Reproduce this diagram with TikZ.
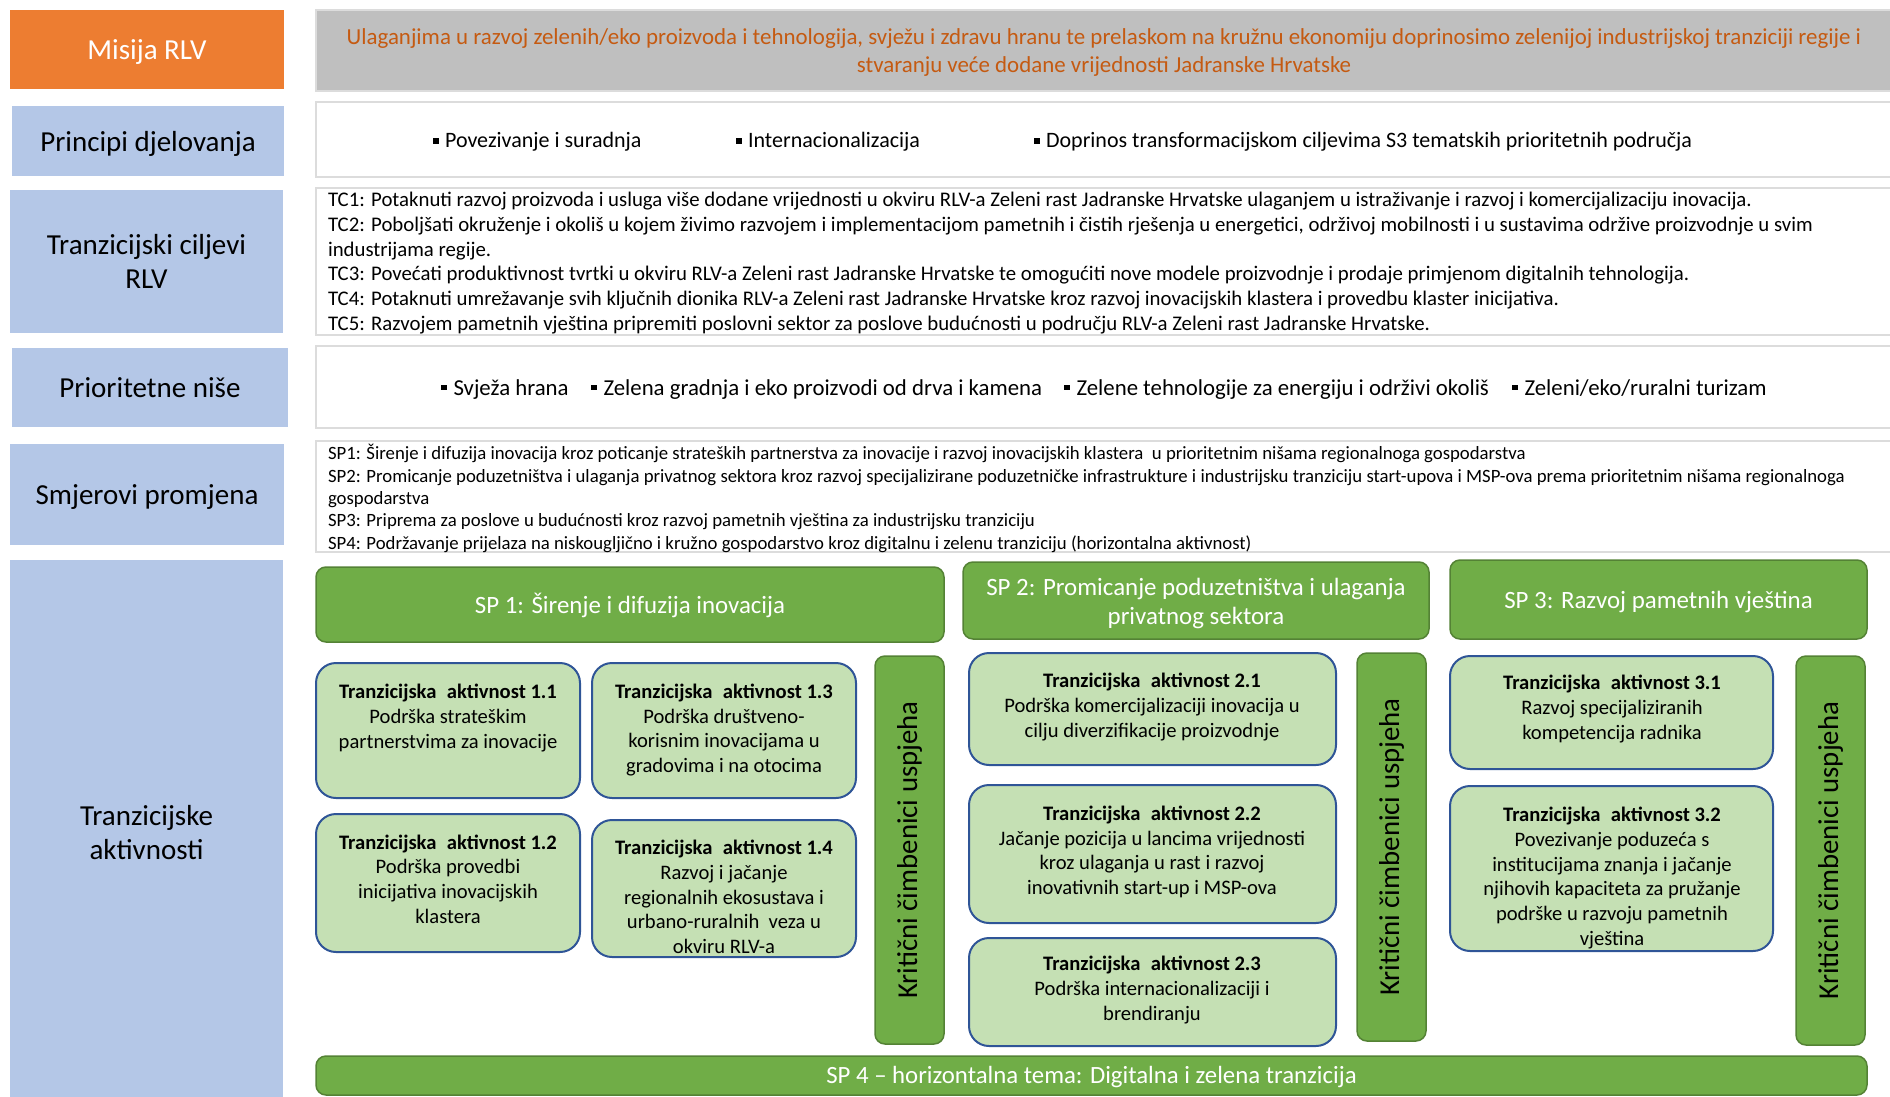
\documentclass[tikz,border=0pt]{standalone}
\usepackage{fontspec}
\setmainfont{Carlito}
\definecolor{orng}{HTML}{ED7D31}
\definecolor{lblue}{HTML}{B4C7E7}
\definecolor{mgray}{HTML}{BFBFBF}
\definecolor{bord}{HTML}{DCDCDC}
\definecolor{mtext}{HTML}{C55A11}
\definecolor{hgreen}{HTML}{70AD47}
\definecolor{hgreenb}{HTML}{548235}
\definecolor{agreen}{HTML}{C5E0B4}
\definecolor{ablue}{HTML}{2F5597}
\newcommand{\fs}[2]{\fontsize{#1}{#2}\selectfont}
\newcommand{\sqb}{\raisebox{0.2em}{\rule{0.26em}{0.26em}}\hspace{0.28em}}
\newcommand{\tak}[1]{\textbf{Tranzicijska\hspace{0.5em}aktivnost #1}}
\tikzset{
  box/.style={anchor=north west, inner sep=0pt, outer sep=0pt},
  lbl/.style={box, fill=lblue, align=center, font=\fs{29}{34}},
  ltext/.style={align=center, font=\fs{29}{34}, inner sep=0pt},
  panel/.style={box, fill=white, draw=bord, line width=2.5pt},
  hdr/.style={box, fill=hgreen, draw=hgreenb, line width=1.5pt, rounded corners=10pt},
  htext/.style={text=white, align=center, font=\fs{24.9}{29}, inner sep=0pt, yshift=-2pt},
  act/.style={box, fill=agreen, draw=ablue, line width=2pt, rounded corners=20pt},
  atext/.style={align=center, font=\fs{20.6}{24.7}, inner sep=0pt, yshift=-3pt},
  kbar/.style={box, fill=hgreen, draw=hgreenb, line width=1.5pt, rounded corners=10pt},
  ktext/.style={rotate=90, font=\fs{28.8}{32}, inner sep=0pt},
  ptext/.style={anchor=base west, inner sep=0pt, font=\fs{22}{26}},
  ntext/.style={anchor=base west, inner sep=0pt, font=\fs{22.8}{27}}
}
\begin{document}
\begin{tikzpicture}[x=1pt,y=-1pt]
\useasboundingbox (0,0) rectangle (1890,1097);
% left labels
\node[lbl, fill=orng, minimum width=274pt, minimum height=79pt] (mis) at (10,10) {};
\node[ltext, text=white] (mist0) at (147,52.5) {Misija RLV};
\node[lbl, minimum width=272pt, minimum height=70pt] (prin) at (12,106) {};
\node[ltext] (print0) at (148,143.5) {Principi djelovanja};
\node[lbl, minimum width=273pt, minimum height=143pt] (tcl) at (10,190) {Tranzicijski ciljevi\\RLV};
\node[lbl, minimum width=276pt, minimum height=79pt] (prio) at (12,348) {Prioritetne niše};
\node[lbl, minimum width=274pt, minimum height=101pt] (smj) at (10,444) {};
\node[ltext] (smjt) at (147,497) {Smjerovi promjena};
\node[lbl, minimum width=273pt, minimum height=540pt] (tal) at (10,560) {};
\node[ltext] (talt) at (146.5,833) {Tranzicijske\\aktivnosti};
% panels
\node[panel, fill=mgray, draw=bord, minimum width=1590pt, minimum height=81pt] (misp) at (316,10) {};
\node[align=center, text=mtext, font=\fs{22.9}{28}, inner sep=0pt] (mist) at (1104,52.5) {Ulaganjima u razvoj zelenih/eko proizvoda i tehnologija, svježu i zdravu hranu te prelaskom na kružnu ekonomiju doprinosimo zelenijoj industrijskoj tranziciji regije i\\stvaranju veće dodane vrijednosti Jadranske Hrvatske};
\node[panel, minimum width=1590pt, minimum height=75pt] (prinp) at (316,102) {};
\node[ptext] (p1) at (433,148) {\sqb Povezivanje i suradnja};
\node[ptext] (p2) at (736,148) {\sqb Internacionalizacija};
\node[ptext] (p3) at (1034,148) {\sqb Doprinos transformacijskom ciljevima S3 tematskih prioritetnih područja};
\node[panel, minimum width=1590pt, minimum height=147pt] (tcp) at (316,188) {};
\node[box, align=left, font=\fs{20.8}{24.8}] (tct) at (328,192) {TC1: Potaknuti razvoj proizvoda i usluga više dodane vrijednosti u okviru RLV-a Zeleni rast Jadranske Hrvatske ulaganjem u istraživanje i razvoj i komercijalizaciju inovacija.\\
TC2: Poboljšati okruženje i okoliš u kojem živimo razvojem i implementacijom pametnih i čistih rješenja u energetici, održivoj mobilnosti i u sustavima održive proizvodnje u svim\\
industrijama regije.\\
TC3: Povećati produktivnost tvrtki u okviru RLV-a Zeleni rast Jadranske Hrvatske te omogućiti nove modele proizvodnje i prodaje primjenom digitalnih tehnologija.\\
TC4: Potaknuti umrežavanje svih ključnih dionika RLV-a Zeleni rast Jadranske Hrvatske kroz razvoj inovacijskih klastera i provedbu klaster inicijativa.\\
TC5: Razvojem pametnih vještina pripremiti poslovni sektor za poslove budućnosti u području RLV-a Zeleni rast Jadranske Hrvatske.};
\node[panel, minimum width=1590pt, minimum height=82pt] (priop) at (316,346) {};
\node[ntext] (n1) at (441,395) {\sqb Svježa hrana};
\node[ntext] (n2) at (591,395) {\sqb Zelena gradnja i eko proizvodi od drva i kamena};
\node[ntext] (n3) at (1064,395) {\sqb Zelene tehnologije za energiju i održivi okoliš};
\node[ntext] (n4) at (1512,395) {\sqb Zeleni/eko/ruralni turizam};
\node[panel, minimum width=1590pt, minimum height=111pt] (spp) at (316,441) {};
\node[box, align=left, font=\fs{18.75}{22.3}] (spt) at (328,444.5) {SP1: Širenje i difuzija inovacija kroz poticanje strateških partnerstva za inovacije i razvoj inovacijskih klastera~ u prioritetnim nišama regionalnoga gospodarstva\\
SP2: Promicanje poduzetništva i ulaganja privatnog sektora kroz razvoj specijalizirane poduzetničke infrastrukture i industrijsku tranziciju start-upova i MSP-ova prema prioritetnim nišama regionalnoga\\
gospodarstva\\
SP3: Priprema za poslove u budućnosti kroz razvoj pametnih vještina za industrijsku tranziciju\\
SP4: Podržavanje prijelaza na niskougljično i kružno gospodarstvo kroz digitalnu i zelenu tranziciju (horizontalna aktivnost)};
% headers
\node[hdr, minimum width=628pt, minimum height=75pt] (sp1) at (316,567) {};
\node[htext, yshift=1pt] (sp1t) at (sp1.center) {SP 1: Širenje i difuzija inovacija};
\node[hdr, minimum width=466pt, minimum height=77pt] (sp2) at (963,562) {};
\node[htext, yshift=-0.5pt] (sp2t) at (sp2.center) {SP 2: Promicanje poduzetništva i ulaganja\\privatnog sektora};
\node[hdr, minimum width=417pt, minimum height=79pt] (sp3) at (1450,560) {};
\node[htext] (sp3t) at (sp3.center) {SP 3: Razvoj pametnih vještina};
% activities SP1
\node[act, minimum width=264pt, minimum height=135pt] (a11) at (316,663) {};
\node[atext] (a11t) at (448,715) {\tak{1.1}\\Podrška strateškim\\partnerstvima za inovacije};
\node[act, minimum width=264pt, minimum height=135pt] (a13) at (592,663) {};
\node[atext] (a13t) at (724,727) {\tak{1.3}\\Podrška društveno-\\korisnim inovacijama u\\gradovima i na otocima};
\node[act, minimum width=264pt, minimum height=138pt] (a12) at (316,814) {};
\node[atext] (a12t) at (448,876) {\tak{1.2}\\Podrška provedbi\\inicijativa inovacijskih\\klastera};
\node[act, minimum width=264pt, minimum height=137pt] (a14) at (592,820) {};
\node[atext] (a14t) at (724,894) {\tak{1.4}\\Razvoj i jačanje\\regionalnih ekosustava i\\urbano-ruralnih~ veza u\\okviru RLV-a};
\node[kbar, minimum width=69pt, minimum height=388pt] (k1) at (875,656) {};
\node[ktext] (k1t) at (k1.center) {Kritični čimbenici uspjeha};
% activities SP2
\node[act, minimum width=367pt, minimum height=112pt] (a21) at (969,653) {};
\node[atext] (a21t) at (1152,704) {\tak{2.1}\\Podrška komercijalizaciji inovacija u\\cilju diverzifikacije proizvodnje};
\node[act, minimum width=367pt, minimum height=138pt] (a22) at (969,785) {};
\node[atext] (a22t) at (1152,849) {\tak{2.2}\\Jačanje pozicija u lancima vrijednosti\\kroz ulaganja u rast i razvoj\\inovativnih start-up i MSP-ova};
\node[act, minimum width=367pt, minimum height=108pt] (a23) at (969,938) {};
\node[atext] (a23t) at (1152,987) {\tak{2.3}\\Podrška internacionalizaciji i\\brendiranju};
\node[kbar, minimum width=69pt, minimum height=388pt] (k2) at (1357,653) {};
\node[ktext] (k2t) at (k2.center) {Kritični čimbenici uspjeha};
% activities SP3
\node[act, minimum width=323pt, minimum height=113pt] (a31) at (1450,656) {};
\node[atext] (a31t) at (1612,706) {\tak{3.1}\\Razvoj specijaliziranih\\kompetencija radnika};
\node[act, minimum width=323pt, minimum height=165pt] (a32) at (1450,786) {};
\node[atext] (a32t) at (1612,875) {\tak{3.2}\\Povezivanje poduzeća s\\institucijama znanja i jačanje\\njihovih kapaciteta za pružanje\\podrške u razvoju pametnih\\vještina};
\node[kbar, minimum width=69pt, minimum height=389pt] (k3) at (1796,656) {};
\node[ktext] (k3t) at (k3.center) {Kritični čimbenici uspjeha};
% SP4
\node[hdr, minimum width=1551pt, minimum height=39pt] (sp4) at (316,1056) {};
\node[htext, font=\fs{24.8}{29}] (sp4t) at (sp4.center) {SP 4 – horizontalna tema: Digitalna i zelena tranzicija};
\end{tikzpicture}
\end{document}
